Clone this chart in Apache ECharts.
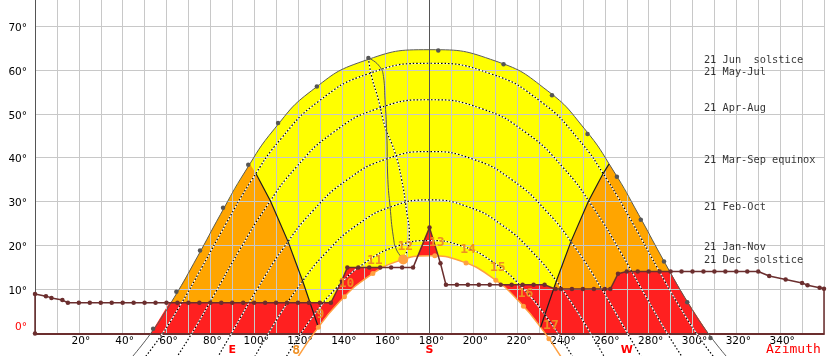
<!DOCTYPE html>
<html><head><meta charset="utf-8">
<script src="https://cdn.jsdelivr.net/npm/echarts@6/dist/echarts.min.js"></script>
<style>html,body{margin:0;padding:0;background:#fff}#c{width:827px;height:356px}</style>
</head><body><div id="c"></div>
<script>
// sun paths [azimuth°, altitude°]
const junePath = [[40.85,-7.32],[52.61,-0.13],[63.57,8.24],[74.08,17.43],[84.65,27.12],[96.01,36.97],[109.28,46.59],[126.27,55.29],[149.65,61.97],[180,64.59],[210.35,61.97],[233.73,55.29],[250.72,46.59],[263.99,36.97],[275.35,27.12],[285.92,17.43],[296.43,8.24],[307.39,-0.13],[319.15,-7.32]];
const mayJulPath = [[42.32,-10.04],[54.38,-2.67],[65.56,5.86],[76.28,15.18],[87.09,24.93],[98.69,34.77],[112.19,44.29],[129.21,52.77],[151.83,59.07],[180,61.5],[208.17,59.07],[230.79,52.77],[247.81,44.29],[261.31,34.77],[272.91,24.93],[283.72,15.18],[294.44,5.86],[305.62,-2.67],[317.68,-10.04]];
const aprAugPath = [[59.16,-9.47],[70.85,-0.54],[82.0,9.05],[93.22,18.89],[105.25,28.62],[119.0,37.75],[135.66,45.6],[156.2,51.16],[180,53.2],[203.8,51.16],[224.34,45.6],[241.0,37.75],[254.75,28.62],[266.78,18.89],[278.0,9.05],[289.15,-0.54],[300.84,-9.47]];
const marSepPath = [[78.43,-9.62],[89.84,0.19],[101.24,10.0],[113.34,19.41],[126.83,27.94],[142.4,34.97],[160.34,39.71],[180,41.4],[199.66,39.71],[217.6,34.97],[233.17,27.94],[246.66,19.41],[258.76,10.0],[270.16,0.19],[281.57,-9.62]];
const febOctPath = [[97.12,-8.07],[108.32,1.54],[120.07,10.53],[132.91,18.46],[147.24,24.8],[163.11,28.95],[180,30.4],[196.89,28.95],[212.76,24.8],[227.09,18.46],[239.93,10.53],[251.68,1.54],[262.88,-8.07]];
const janNovPath = [[110.5,-8.6],[114.22,-5.6],[125.42,2.96],[137.51,10.35],[150.72,16.14],[165.01,19.86],[180,21.15],[194.99,19.86],[209.28,16.14],[222.49,10.35],[234.58,2.96],[245.78,-5.6],[249.5,-8.6]];
const decPath = [[116.43,-8.24],[127.39,0.13],[139.15,7.32],[151.93,12.91],[165.66,16.48],[180,17.71],[194.34,16.48],[208.07,12.91],[220.85,7.32],[232.61,0.13],[243.57,-8.24]];
// hour lines (June -> December)
const hourLineAM = [[98.05,38.6],[100.78,36.4],[107.43,30.16],[115.47,20.91],[122.12,11.94],[127.37,4.28],[129.3,1.43]];
const hourLinePM = [[261.95,38.6],[259.22,36.4],[252.57,30.16],[244.53,20.91],[237.88,11.94],[232.63,4.28],[230.7,1.43]];
// horizon mask
const horizonMask = [[0,9.0],[5,8.5],[7.5,8.1],[12.5,7.6],[15,7.0],[20,7.0],[25,7.0],[30,7.0],[35,7.0],[40,7.0],[45,7.0],[50,7.0],[55,7.0],[60,7.0],[65,7.0],[70,7.0],[75,7.0],[80,7.0],[85,7.0],[90,7.0],[95,7.0],[100,7.0],[105,7.0],[110,7.0],[115,7.0],[120,7.0],[125,7.0],[130,7.0],[135,7.0],[140,12.0],[142.5,15.0],[147.5,15.0],[152.5,15.0],[157.5,15.0],[162.5,15.0],[167.5,15.0],[172.5,15.0],[180,24.1],[185,16.0],[187.5,11.1],[192.5,11.1],[197.5,11.1],[202.5,11.1],[207.5,11.1],[212.5,11.1],[217.5,11.1],[222.5,11.1],[227.5,11.1],[232.5,11.1],[237.5,10.1],[240,10.1],[245,10.1],[250,10.1],[255,10.1],[260,10.1],[262.5,10.1],[266,13.6],[270,14.1],[275,14.1],[280,14.1],[285,14.1],[290,14.1],[295,14.1],[300,14.1],[305,14.1],[310,14.1],[315,14.1],[320,14.1],[325,14.1],[330,14.1],[335,13.1],[342.5,12.3],[350,11.5],[352.5,11.0],[358,10.4],[360,10.2]];
const redEdgeLeft = [[52.8,0],[61.3,7.0]];
const redEdgeRight = [[289.8,14.1],[296.43,8.24],[307.39,-0.13]];
const juneHourDots = [[53.9,1.1],[64.5,9.5],[75.3,18.9],[85.8,28.6],[97.3,38.4],[110.9,47.9],[128.6,56.2],[152.1,62.7],[184,64.4],[213.8,61.3],[235.9,54.2],[252.1,45.4],[265.5,35.7],[276.4,25.9],[287,16.4],[297.6,7.1],[308.2,-1.0]];
const decHourDots = [['8',118.22,-6.77],['9',129.3,1.43],['10',141.21,8.37],['11',154.15,13.65],['12',168.02,16.85],['13',182.41,17.68],['14',196.68,16.04],['15',210.28,12.10],['16',222.88,6.22],['17',234.49,-1.19]];
const analemmaSolid = [[152.1,62.7],[156.7,61.1],[159.0,58.5],[159.7,53.2],[160.5,45.6],[161.0,35.0],[162.0,28.9],[163.5,22.0],[165.0,19.0],[168.0,17.0]];
const analemmaDotted = [[152.1,62.7],[153.6,58.5],[156.7,53.2],[159.7,47.1],[164.3,41.1],[167.3,35.0],[169.5,28.0],[170.8,22.5],[170.3,19.8],[168.0,17.0]];
const dateLabels = [['21 Jun  solstice',62.2],['21 May-Jul',59.4],['21 Apr-Aug',51.25],['21 Mar-Sep equinox',39.35],['21 Feb-Oct',28.75],['21 Jan-Nov',19.5],['21 Dec  solstice',16.65]];
const dateLabelAz = 305.2;
const compass = {90:'E',180:'S',270:'W'};
const southLine = [[180,0],[180,80]];
const altMax = 75.9;

const BROWN = '#6b2e2e';
const fill = (data, color, z, smooth) => ({type:'line', data, smooth, showSymbol:false, symbol:'none', lineStyle:{width:0,opacity:0}, areaStyle:{color, opacity:1}, z, silent:true});
const line = (data, color, width, z, type, smooth) => ({type:'line', data, smooth, showSymbol:false, symbol:'none', clip:false, lineStyle:{color, width, type: type||'solid'}, z, silent:true});
const dotted = (data) => [line(data,'#ffffff',1.2,7,'solid',true), line(data,'#000000',1.2,8,[1.5,2],true)];

const series = [
  fill(junePath,'#ffff00',1,true),
  fill(junePath.slice(0,6).concat(hourLineAM),'#ffa500',2,false),
  fill(hourLinePM.slice().reverse().concat(junePath.slice(13)),'#ffa500',2,false),
  fill(redEdgeLeft.concat(horizonMask.filter(p=>p[0]>61.3&&p[0]<289.8), redEdgeRight),'#ff2020',3,false),
  fill(decPath,'#ffffff',4,true),
  ...dotted(mayJulPath), ...dotted(aprAugPath), ...dotted(marSepPath), ...dotted(febOctPath), ...dotted(janNovPath),
  ...dotted(analemmaDotted),
  line(analemmaSolid,'#555555',1,9,'solid',true),
  line(junePath,'#5a5a5a',1,9,'solid',true),
  line(decPath,'#ffa040',1.5,9,'solid',true),
  line(hourLineAM.slice(1),'#1e1e1e',1.2,9,'solid',false),
  line(hourLinePM,'#1e1e1e',1.2,9,'solid',false),
  line(southLine,'#555555',1,9,'solid',false),
  line([[0,0]].concat(horizonMask,[[360,0]]),BROWN,1.5,10,'solid',false),
  {type:'scatter', data:[[0,0]].concat(horizonMask), symbol:'circle', symbolSize:4.5, itemStyle:{color:BROWN, opacity:1}, z:11, clip:false, silent:true},
  {type:'scatter', data:juneHourDots, symbol:'circle', symbolSize:4.5, itemStyle:{color:'#555555', opacity:1}, z:11, clip:false, silent:true},
  {type:'scatter', clip:false, silent:true, z:12,
   data: decHourDots.map(d=>({name:d[0], value:[d[1],d[2]], symbolSize: d[0]==='12'?10:5,
     label:{distance: d[0]==='12'?1.5:4}})),
   itemStyle:{color:'#ffa040', opacity:1},
   label:{show:true, position:'top', offset:[2,0], formatter:'{b}', color:'#ee8f22', opacity:1, textBorderWidth:0,
     fontFamily:'DejaVu Sans Mono', fontWeight:'bold', fontSize:13}},
  {type:'scatter', clip:false, silent:true, z:12, symbolSize:0,
   data: dateLabels.map(d=>({name:d[0], value:[dateLabelAz,d[1]]})),
   label:{show:true, position:'right', distance:0, formatter:'{b}', color:'#000', fontFamily:'DejaVu Sans Mono', fontSize:10.3, verticalAlign:'middle'}}
];

const chart = echarts.init(document.getElementById('c'), null, {renderer:'canvas'});
chart.setOption({
  animation:false,
  backgroundColor:'#ffffff',
  title:{text:'Azimuth', left:766, top:343, padding:0, textStyle:{color:'#ff0000', fontSize:13, fontWeight:'normal', fontFamily:'DejaVu Sans Mono'}},
  grid:{left:35, right:0, top:0, bottom:22},
  xAxis:[
    {type:'value', min:0, max:360, interval:10, z:6,
     axisLine:{show:true, lineStyle:{color:BROWN, width:2}}, axisTick:{show:false},
     splitLine:{show:true, lineStyle:{color:'#c8c8c8', width:1}},
     axisLabel:{margin:2, fontSize:10.5, fontFamily:'DejaVu Sans', color:'#000', padding:[0,0,0,4],
       formatter:v=> (v%20===0 && v>0 && v<360) ? v+'°' : ''}},
    {type:'value', min:0, max:360, interval:90, position:'bottom', z:6,
     axisLine:{show:false}, axisTick:{show:false}, splitLine:{show:false},
     axisLabel:{margin:11.5, fontSize:11, fontWeight:'bold', fontFamily:'DejaVu Sans', color:'#ff0000',
       formatter:v=> compass[v] || ''}}
  ],
  yAxis:{type:'value', min:0, max:altMax, interval:10, z:6,
    axisLine:{show:true, lineStyle:{color:'#555555', width:1}}, axisTick:{show:false},
    splitLine:{show:true, showMaxLine:false, lineStyle:{color:'#c8c8c8', width:1}},
    axisLabel:{margin:8, fontSize:10.5, fontFamily:'DejaVu Sans', color:'#000', padding:[4,0,0,0], showMaxLabel:false,
      formatter:v=> v===0 ? '{r|0°}' : (v%10===0 ? v+'°' : ''),
      rich:{r:{color:'#ff0000', fontSize:10.5, fontFamily:'DejaVu Sans', padding:[0,0,16,0]}}}},
  series
});
</script></body></html>
